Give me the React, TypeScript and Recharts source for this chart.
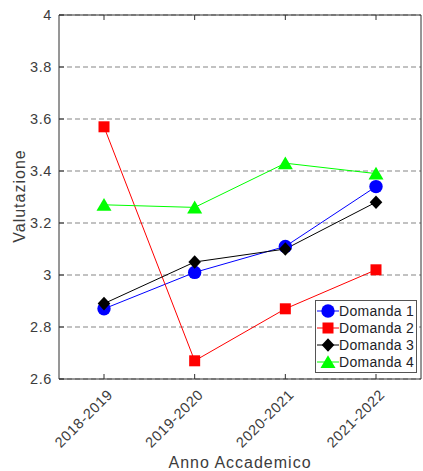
import React from 'react';
import { LineChart, Line, XAxis, YAxis, CartesianGrid } from 'recharts';

const years = ['2018-2019', '2019-2020', '2020-2021', '2021-2022'];
const domanda1 = [2.87, 3.01, 3.11, 3.34];
const domanda2 = [3.57, 2.67, 2.87, 3.02];
const domanda3 = [2.89, 3.05, 3.1, 3.28];
const domanda4 = [3.27, 3.26, 3.43, 3.39];
const yTicks = [2.6, 2.8, 3, 3.2, 3.4, 3.6, 3.8, 4];

type Shape = 'circle' | 'square' | 'diamond' | 'triangle';

const SERIES: Array<{ key: string; name: string; color: string; shape: Shape }> = [
  { key: 'd1', name: 'Domanda 1', color: '#0000ff', shape: 'circle' },
  { key: 'd2', name: 'Domanda 2', color: '#ff0000', shape: 'square' },
  { key: 'd3', name: 'Domanda 3', color: '#000000', shape: 'diamond' },
  { key: 'd4', name: 'Domanda 4', color: '#00ff00', shape: 'triangle' },
];

const data = years.map((year, i) => ({
  year,
  d1: domanda1[i],
  d2: domanda2[i],
  d3: domanda3[i],
  d4: domanda4[i],
}));

const FONT = 'Liberation Sans, Arial, sans-serif';
const TEXT = '#3c3c3c';
const AXIS = '#2e2e2e';

const W = 423;
const H = 471;

const Marker = ({ cx, cy, shape, color }: { cx?: number; cy?: number; shape: Shape; color: string }) => {
  if (cx == null || cy == null) return null;
  switch (shape) {
    case 'circle':
      return <circle cx={cx} cy={cy} r={6.7} fill={color} />;
    case 'square':
      return <rect x={cx - 5.5} y={cy - 5.5} width={11} height={11} fill={color} />;
    case 'diamond':
      return <polygon points={`${cx},${cy - 6.8} ${cx + 6.3},${cy} ${cx},${cy + 6.8} ${cx - 6.3},${cy}`} fill={color} />;
    default:
      return <polygon points={`${cx},${cy - 6.8} ${cx + 7.5},${cy + 6} ${cx - 7.5},${cy + 6}`} fill={color} />;
  }
};

// rotated category labels, anchored at their end just below-right of the tick
const XTick = ({ x, y, payload }: any) => {
  const ax = x + 6;
  const ay = y + 13;
  return (
    <text
      x={ax}
      y={ay}
      transform={`rotate(-45, ${ax}, ${ay})`}
      textAnchor="end"
      dominantBaseline="central"
      fontFamily={FONT}
      fontSize={14.5}
      letterSpacing={0.6}
      fill={TEXT}
    >
      {payload.value}
    </text>
  );
};

const YTick = ({ x, y, payload }: any) => (
  <text
    x={x}
    y={y}
    textAnchor="end"
    dominantBaseline="central"
    fontFamily={FONT}
    fontSize={14.5}
    letterSpacing={0.6}
    fill={TEXT}
  >
    {String(payload.value)}
  </text>
);

const NoTick = () => <g />;

const YLabel = () => (
  <text
    x={19}
    y={196}
    transform="rotate(-90, 19, 196)"
    textAnchor="middle"
    dominantBaseline="central"
    fontFamily={FONT}
    fontSize={16}
    letterSpacing={1}
    fill={TEXT}
  >
    Valutazione
  </text>
);

const XLabel = () => (
  <text
    x={240}
    y={462}
    textAnchor="middle"
    dominantBaseline="central"
    fontFamily={FONT}
    fontSize={16}
    letterSpacing={1}
    fill={TEXT}
  >
    Anno Accademico
  </text>
);

const LegendBox = () => (
  <div
    style={{
      position: 'absolute',
      left: 315,
      top: 300,
      width: 102,
      height: 73,
      boxSizing: 'border-box',
      border: '1.5px solid #555',
      background: '#fff',
    }}
  >
    <svg width={100} height={70} style={{ display: 'block' }}>
      {SERIES.map((s, i) => {
        const cy = 10 + i * 17;
        return (
          <g key={s.key}>
            <line x1={1} x2={23} y1={cy} y2={cy} stroke={s.color} strokeWidth={1} />
            <Marker cx={12} cy={cy} shape={s.shape} color={s.color} />
            <text
              x={23}
              y={cy}
              dominantBaseline="central"
              fontFamily={FONT}
              fontSize={14}
              letterSpacing={0.3}
              fill="#1e1e28"
            >
              {s.name}
            </text>
          </g>
        );
      })}
    </svg>
  </div>
);

export default function App() {
  return (
    <div style={{ position: 'absolute', left: 0, top: 0, width: W, height: H, background: '#fff' }}>
      <LineChart width={W} height={H} data={data} margin={{ top: 14, right: 1, left: 0, bottom: 0 }}>
        <CartesianGrid vertical={false} stroke="#858585" strokeDasharray="5 3" />
        <XAxis
          dataKey="year"
          height={92}
          padding={{ left: 45, right: 45 }}
          stroke={AXIS}
          tickSize={-5}
          tickMargin={5}
          tick={<XTick />}
          interval={0}
          label={<XLabel />}
        />
        <XAxis
          xAxisId="top"
          dataKey="year"
          orientation="top"
          height={1}
          padding={{ left: 45, right: 45 }}
          stroke={AXIS}
          tickSize={-5}
          tick={NoTick}
          interval={0}
        />
        <YAxis
          domain={[2.6, 4]}
          ticks={yTicks}
          width={59}
          stroke={AXIS}
          tickSize={-5}
          tickMargin={12}
          tick={<YTick />}
          interval={0}
          label={<YLabel />}
        />
        <YAxis
          yAxisId="right"
          orientation="right"
          domain={[2.6, 4]}
          ticks={yTicks}
          width={1}
          stroke={AXIS}
          tickSize={-5}
          tick={NoTick}
          interval={0}
        />
        {SERIES.map((s) => (
          <Line
            key={s.key}
            type="linear"
            dataKey={s.key}
            name={s.name}
            stroke={s.color}
            strokeWidth={1}
            isAnimationActive={false}
            dot={(p: any) => <Marker key={`${s.key}-${p.index}`} cx={p.cx} cy={p.cy} shape={s.shape} color={s.color} />}
            activeDot={false}
          />
        ))}
      </LineChart>
      <LegendBox />
    </div>
  );
}
